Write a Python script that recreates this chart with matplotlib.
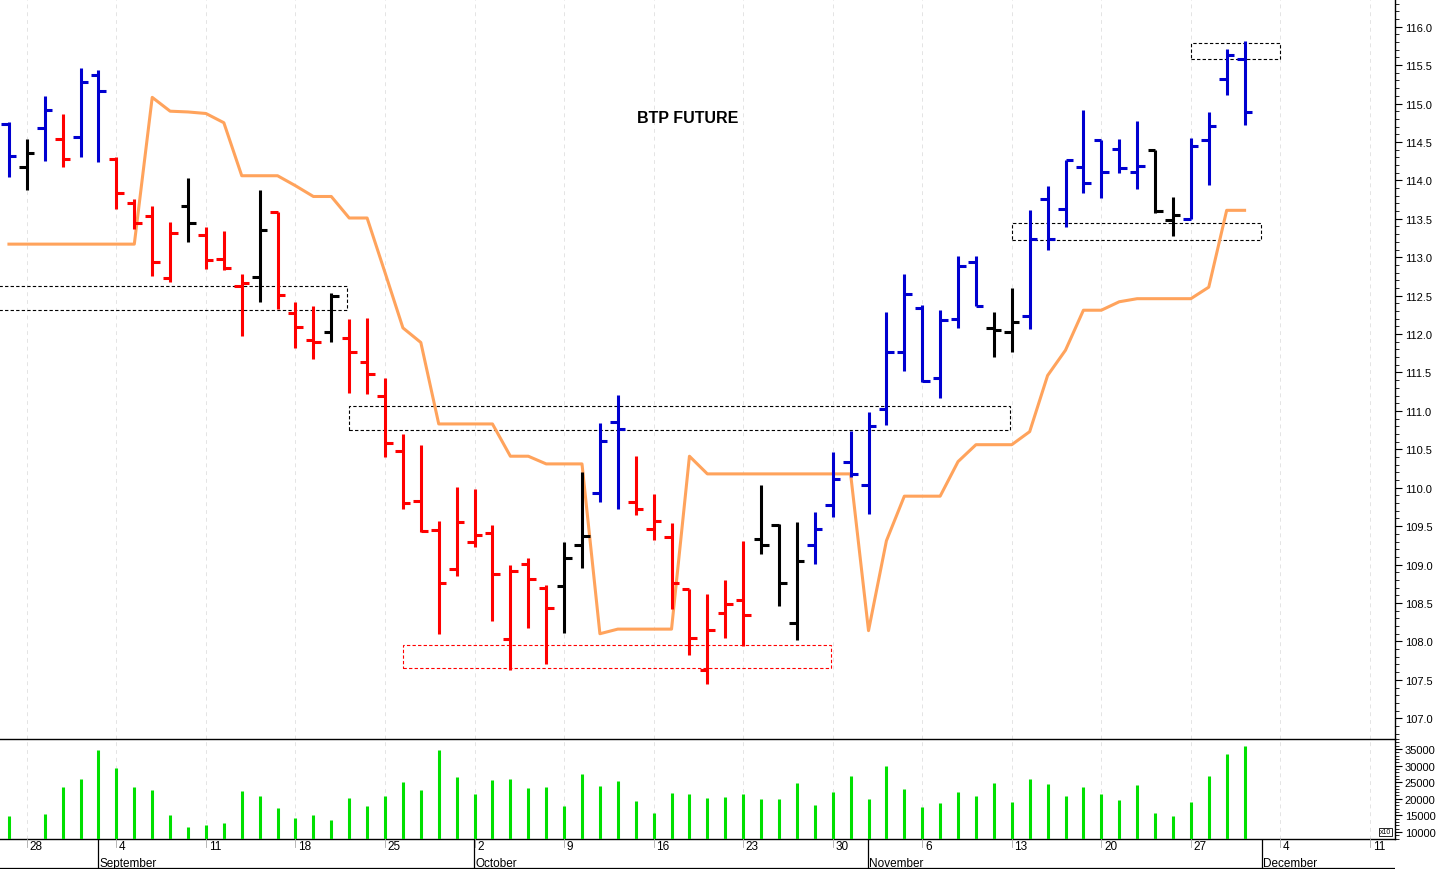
import matplotlib
matplotlib.use('Agg')
import matplotlib.pyplot as plt
from matplotlib.patches import Rectangle
from matplotlib.ticker import MultipleLocator

plt.rcParams['font.family'] = ['Liberation Sans Narrow', 'Liberation Sans', 'DejaVu Sans']

# ---------------------------------------------------------------------------
# data (daily bars, 25 Aug -> 30 Nov)
# ---------------------------------------------------------------------------
opens = [114.73, 114.17, 114.68, 114.54, 114.56, 115.37, 114.28, 113.70, 113.54, 112.73,
         113.67, 113.29, 112.98, 112.62, 112.74, 113.59, 112.28, 111.92, 112.02, 111.95,
         111.64, 111.20, 110.48, 109.83, 109.45, 108.94, 109.29, 109.41, 108.03, 109.01,
         108.69, 108.72, 109.25, 109.93, 110.86, 109.81, 109.46, 109.36, 108.68, 107.63,
         108.37, 108.54, 109.33, 109.52, 108.24, 109.26, 109.78, 110.34, 110.04, 111.03,
         111.76, 112.34, 111.43, 112.20, 112.94, 112.08, 112.02, 112.24, 113.76, 113.63,
         114.17, 114.52, 114.41, 114.11, 114.40, 113.48, 113.50, 114.53, 115.32, 115.58]
highs = [114.76, 114.54, 115.10, 114.86, 115.46, 115.44, 114.30, 113.76, 113.67, 113.46,
         114.03, 113.39, 113.34, 112.78, 113.87, 113.59, 112.42, 112.37, 112.54, 112.20,
         112.21, 111.43, 110.70, 110.55, 109.57, 110.01, 109.98, 109.52, 108.99, 109.08,
         108.73, 109.29, 110.20, 110.84, 111.21, 110.41, 109.92, 109.54, 108.68, 108.62,
         108.80, 109.31, 110.03, 109.53, 109.55, 109.69, 110.47, 110.74, 110.98, 112.29,
         112.78, 112.38, 112.31, 113.01, 113.02, 112.29, 112.60, 113.61, 113.93, 114.27,
         114.92, 114.52, 114.54, 114.77, 114.40, 113.78, 114.55, 114.89, 115.71, 115.81]
lows = [114.04, 113.87, 114.25, 114.17, 114.30, 114.24, 113.63, 113.37, 112.76, 112.68,
        113.20, 112.85, 112.83, 111.98, 112.42, 112.32, 111.82, 111.68, 111.89, 111.23,
        111.22, 110.40, 109.72, 109.42, 108.10, 108.85, 109.23, 108.26, 107.63, 108.18,
        107.71, 108.11, 108.95, 109.81, 109.72, 109.64, 109.32, 108.42, 107.82, 107.45,
        108.05, 107.94, 109.14, 108.46, 108.02, 109.01, 109.62, 110.14, 109.66, 110.82,
        111.52, 111.37, 111.17, 112.08, 112.36, 111.70, 111.77, 112.07, 113.09, 113.39,
        113.83, 113.77, 114.10, 113.89, 113.57, 113.28, 113.50, 113.94, 115.11, 114.72]
closes = [114.32, 114.35, 114.91, 114.28, 115.28, 115.16, 113.83, 113.45, 112.94, 113.32,
          113.44, 112.96, 112.86, 112.67, 113.35, 112.51, 112.09, 111.89, 112.49, 111.77,
          111.48, 110.58, 109.80, 109.44, 108.76, 109.55, 109.38, 108.88, 108.91, 108.81,
          108.44, 109.08, 109.37, 110.61, 110.77, 109.72, 109.57, 108.76, 108.05, 108.15,
          108.49, 108.34, 109.25, 108.76, 109.04, 109.46, 110.11, 110.18, 110.80, 111.76,
          112.52, 111.39, 112.18, 112.89, 112.36, 112.05, 112.16, 113.24, 113.24, 114.26,
          113.96, 114.11, 114.16, 114.19, 113.60, 113.55, 114.45, 114.71, 115.63, 114.89]
# B = up trend, R = down trend, K = neutral
trend = "BKBRBBRRRRKRRRKRRRKRRRRRRRRRRRRKKBBRRRRRRRKKKBBBBBBBBBBKKBBBBBBBKKBBBB"
stop_line = [113.17] * 8 + [
    115.08, 114.90, 114.89, 114.87, 114.75, 114.06, 114.06, 114.06, 113.93, 113.79,
    113.79, 113.51, 113.51, 112.80, 112.08, 111.89, 110.83, 110.83, 110.83, 110.83,
    110.41, 110.41, 110.31, 110.31, 110.31, 108.10, 108.16, 108.16, 108.16, 108.16,
    110.41, 110.18, 110.18, 110.18, 110.18, 110.18, 110.18, 110.18, 110.18, 110.18,
    108.14, 109.31, 109.89, 109.89, 109.89, 110.34, 110.56, 110.56, 110.56, 110.73,
    111.46, 111.79, 112.31, 112.31, 112.42, 112.46, 112.46, 112.46, 112.46, 112.61,
    113.61, 113.61]
volume = [14900, 8000, 15500, 23700, 26000, 34700, 29300, 23700, 22700, 15100,
          11600, 12200, 12600, 22300, 20900, 17200, 14200, 15200, 13600, 20200,
          17800, 20900, 25000, 22700, 34700, 26600, 21500, 25700, 26000, 23300,
          23500, 17800, 27400, 23900, 25300, 19300, 15700, 21800, 21500, 20200,
          20500, 21500, 20000, 19900, 24800, 18100, 22100, 26900, 19900, 30000,
          23000, 17400, 18700, 22100, 20800, 24900, 19100, 26100, 24600, 20900,
          23500, 21500, 19600, 24300, 15600, 14900, 18900, 26900, 33500, 35800]

# dashed zones: (x0, x1, low, high, colour)
zones = [(-0.6, 18.9, 112.31, 112.63, 'black'),
         (19.0, 55.9, 110.75, 111.07, 'black'),
         (22.0, 45.9, 107.65, 107.95, 'red'),
         (56.0, 69.9, 113.23, 113.45, 'black'),
         (66.0, 71.0, 115.58, 115.79, 'black')]

week_pos = [1, 6, 11, 16, 21, 26, 31, 36, 41, 46, 51, 56, 61, 66, 71, 76]
week_labels = ['28', '4', '11', '18', '25', '2', '9', '16', '23', '30',
               '6', '13', '20', '27', '4', '11']
month_pos = [5, 26, 48, 70]
month_labels = ['September', 'October', 'November', 'December']

colors = {'B': '#0000d0', 'R': '#ff0000', 'K': '#000000'}

# ---------------------------------------------------------------------------
fig = plt.figure(figsize=(14.43, 8.70), dpi=100)
W, H = 1443, 870
axr = 1395 / W
axv = fig.add_axes([0, 30 / H, axr, 100 / H])
axd = fig.add_axes([0, 0, axr, 30 / H])
ax = fig.add_axes([0, 130 / H, axr, 740 / H])
ax.patch.set_alpha(0)

xlim = (-0.5, 77.4)
n = len(opens)
xs = list(range(n))
tw = 0.42

for a in (ax, axv):
    a.set_xlim(*xlim)
    for x in week_pos:
        a.axvline(x, color='#e4e4e4', lw=0.7, ls=(0, (4, 4)), zorder=0)
    a.spines['left'].set_visible(False)
    a.spines['top'].set_visible(False)
    a.spines['bottom'].set_linewidth(1.0)
    a.spines['right'].set_linewidth(1.0)
    a.yaxis.tick_right()
    a.set_xticks([])
    a.tick_params(axis='y', labelsize=8, length=5, direction='out', pad=2)
    a.tick_params(axis='y', which='minor', length=3)

# price bars
for i in xs:
    c = colors[trend[i]]
    ax.vlines(i, lows[i], highs[i], color=c, lw=2.2, zorder=3)
    ax.hlines(opens[i], i - tw, i, color=c, lw=2.2, zorder=3)
    ax.hlines(closes[i], i, i + tw, color=c, lw=2.2, zorder=3)

ax.plot(xs, stop_line, color='#ffa35c', lw=2.2, zorder=2)

for x0, x1, lo, hi, c in zones:
    ax.add_patch(Rectangle((x0, lo), x1 - x0, hi - lo, fill=False, ec=c,
                           lw=0.8, ls=(0, (3, 2)), zorder=1))

ax.set_ylim(106.73, 116.36)
ax.yaxis.set_major_locator(MultipleLocator(0.5))
ax.yaxis.set_minor_locator(MultipleLocator(0.1))
ax.yaxis.set_major_formatter(plt.FuncFormatter(lambda v, p: f'{v:.1f}'))
ax.text(37.9, 114.82, 'BTP FUTURE', fontsize=11.5, fontweight='bold',
        family=['Liberation Sans', 'DejaVu Sans'], ha='center', va='center')

# volume
axv.vlines(xs, 0, volume, color='#00e000', lw=2.2, zorder=3)
axv.set_ylim(7900, 38000)
axv.set_yticks([10000, 15000, 20000, 25000, 30000, 35000])
axv.yaxis.set_minor_locator(MultipleLocator(1000))
axv.text(0.997, 0.07, 'x10', transform=axv.transAxes, fontsize=5, va='center', ha='right',
         bbox=dict(fc='white', ec='black', lw=0.6, pad=0.5))

# date strip
axd.set_xlim(*xlim)
axd.set_ylim(0, 30)
axd.axis('off')
for x, lab in zip(week_pos, week_labels):
    axd.plot([x, x], [30, 22], color='#aaaaaa', lw=0.6)
    axd.text(x + 0.15, 22.5, lab, fontsize=8.5, ha='left', va='center')
for x, lab in zip(month_pos, month_labels):
    axd.plot([x - 0.05, x - 0.05], [30, 0], color='black', lw=0.9)
    axd.text(x + 0.05, 6, lab, fontsize=8.5, ha='left', va='center')
axd.plot([xlim[0], xlim[1]], [1.5, 1.5], color='black', lw=0.9)

fig.savefig('out.png', dpi=100, facecolor='white')
